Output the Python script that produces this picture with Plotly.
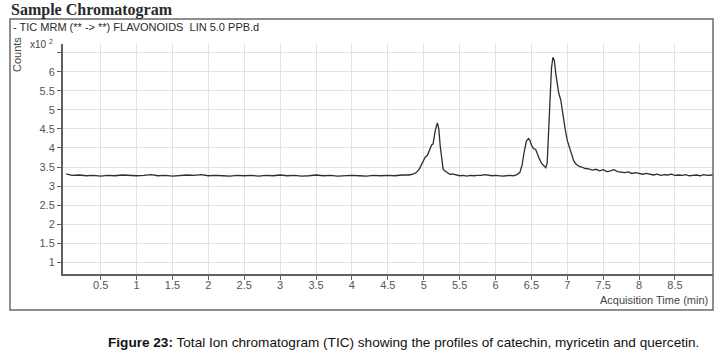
import plotly.graph_objects as go

# ---- data ----
time_min = [
    0.02, 0.1, 0.2, 0.3, 0.4, 0.5, 0.6, 0.7, 0.8, 0.9,
    1.0, 1.1, 1.2, 1.3, 1.4, 1.5, 1.6, 1.7, 1.8, 1.9,
    2.0, 2.1, 2.2, 2.3, 2.4, 2.5, 2.6, 2.7, 2.8, 2.9,
    3.0, 3.1, 3.2, 3.3, 3.4, 3.5, 3.6, 3.7, 3.8, 3.9,
    4.0, 4.1, 4.2, 4.3, 4.4, 4.5, 4.6, 4.7, 4.8,
    4.86, 4.90, 4.94, 4.98, 5.02, 5.05, 5.08, 5.11, 5.13, 5.16,
    5.19, 5.21, 5.23, 5.25, 5.27, 5.29, 5.31, 5.34, 5.37, 5.40,
    5.45, 5.50, 5.55, 5.60, 5.65, 5.70, 5.75, 5.80, 5.85, 5.90,
    5.95, 6.00, 6.05, 6.10, 6.15, 6.20, 6.25, 6.30, 6.34, 6.37,
    6.40, 6.43, 6.46, 6.48, 6.50, 6.53, 6.56, 6.58, 6.61, 6.64,
    6.67, 6.70, 6.72, 6.74, 6.76, 6.78, 6.80, 6.82, 6.84, 6.86,
    6.88, 6.91, 6.94, 6.97, 7.00, 7.03, 7.06, 7.09, 7.12, 7.16,
    7.20, 7.25, 7.30, 7.35, 7.40, 7.45, 7.50, 7.55, 7.60, 7.65,
    7.70, 7.75, 7.80, 7.85, 7.90, 7.95, 8.00, 8.05, 8.10, 8.15,
    8.20, 8.25, 8.30, 8.35, 8.40, 8.45, 8.50, 8.55, 8.60, 8.65,
    8.70, 8.75, 8.80, 8.85, 8.90, 8.95, 9.00, 9.03,
]
counts_x100 = [
    3.32, 3.28, 3.29, 3.27, 3.28, 3.26, 3.28, 3.27, 3.29, 3.28,
    3.27, 3.28, 3.30, 3.27, 3.28, 3.26, 3.27, 3.29, 3.28, 3.30,
    3.27, 3.28, 3.27, 3.26, 3.28, 3.27, 3.28, 3.26, 3.28, 3.27,
    3.29, 3.27, 3.28, 3.26, 3.27, 3.29, 3.27, 3.28, 3.26, 3.27,
    3.28, 3.27, 3.26, 3.28, 3.27, 3.28, 3.27, 3.29, 3.29,
    3.32, 3.36, 3.45, 3.62, 3.76, 3.80, 3.95, 4.08, 4.10, 4.45,
    4.66, 4.50, 4.05, 3.65, 3.45, 3.40, 3.37, 3.35, 3.30, 3.32,
    3.29, 3.27, 3.28, 3.26, 3.28, 3.27, 3.28, 3.28, 3.30, 3.28,
    3.27, 3.28, 3.27, 3.26, 3.27, 3.28, 3.27, 3.30, 3.36, 3.55,
    3.90, 4.18, 4.25, 4.20, 4.08, 3.98, 3.96, 3.85, 3.72, 3.60,
    3.55, 3.48, 3.60, 4.40, 5.40, 6.10, 6.38, 6.30, 5.95, 5.65,
    5.45, 5.25, 4.85, 4.50, 4.20, 4.03, 3.80, 3.66, 3.58, 3.52,
    3.50, 3.46, 3.45, 3.42, 3.44, 3.40, 3.43, 3.38, 3.40, 3.43,
    3.38, 3.37, 3.35, 3.37, 3.33, 3.35, 3.32, 3.31, 3.33, 3.30,
    3.29, 3.31, 3.28, 3.30, 3.29, 3.31, 3.28, 3.29, 3.28, 3.30,
    3.27, 3.28, 3.29, 3.27, 3.30, 3.28, 3.28, 3.29,
]
x_tick_vals = [0.5, 1, 1.5, 2, 2.5, 3, 3.5, 4, 4.5, 5, 5.5, 6, 6.5, 7, 7.5, 8, 8.5]
x_tick_text = ["0.5", "1", "1.5", "2", "2.5", "3", "3.5", "4", "4.5", "5",
               "5.5", "6", "6.5", "7", "7.5", "8", "8.5"]
y_tick_vals = [1, 1.5, 2, 2.5, 3, 3.5, 4, 4.5, 5, 5.5, 6, 6.5]
y_tick_text = ["1", "1.5", "2", "2.5", "3", "3.5", "4", "4.5", "5", "5.5", "6", ""]

# ---- layout geometry (pixels) ----
W, H = 721, 354
L, R, T, B = 63, 713, 44, 274   # plot area edges


def px(x):
    return (x - L) / (R - L)


def py(y):
    return (B - y) / (B - T)


fig = go.Figure()
fig.add_trace(go.Scatter(
    x=time_min, y=counts_x100, mode="lines",
    line=dict(color="#2e2e2e", width=1.3),
    hoverinfo="skip", showlegend=False,
))

font_sans = "Liberation Sans, Arial, sans-serif"

fig.update_layout(
    width=W, height=H,
    margin=dict(l=L, r=W - R, t=T, b=H - B, pad=0),
    paper_bgcolor="white", plot_bgcolor="white",
    font=dict(family=font_sans, size=11, color="#444"),
    xaxis=dict(
        range=[-0.025, 9.03], tickvals=x_tick_vals, ticktext=x_tick_text,
        showgrid=True, gridcolor="#e2e2e2", gridwidth=1,
        showline=True, linecolor="#606060", linewidth=2,
        ticks="outside", ticklen=4, tickcolor="#606060", tickwidth=1,
        tickfont=dict(size=11, color="#555"), zeroline=False,
        ticklabelstandoff=-4,
    ),
    yaxis=dict(
        range=[0.69, 6.73], tickvals=y_tick_vals, ticktext=y_tick_text,
        showgrid=True, gridcolor="#e2e2e2", gridwidth=1,
        showline=True, linecolor="#606060", linewidth=2,
        ticks="outside", ticklen=4, tickcolor="#606060", tickwidth=1,
        tickfont=dict(size=11, color="#555"), zeroline=False,
    ),
)

# outer frame
fig.add_shape(type="rect", xref="paper", yref="paper",
              x0=px(10), x1=px(713), y0=py(310), y1=py(19),
              line=dict(color="#6a6a6a", width=1.5), layer="above")

ann = [
    dict(text="<b>Sample Chromatogram</b>", x=px(9), y=py(10), xanchor="left", yanchor="middle",
         font=dict(family="Liberation Serif, DejaVu Serif, serif", size=16, color="#2a2a2a")),
    dict(text="- TIC MRM (** -&gt; **) FLAVONOIDS\u00a0\u00a0LIN 5.0 PPB.d", x=px(11), y=py(27),
         xanchor="left", yanchor="middle", font=dict(size=11, color="#2a2a2a")),
    dict(text="x10 <sup>2</sup>", x=px(28), y=py(44), xanchor="left", yanchor="middle",
         font=dict(size=10, color="#444")),
    dict(text="Counts", x=px(17), y=py(55), xanchor="center", yanchor="middle", textangle=-90,
         font=dict(size=11, color="#444")),
    dict(text="Acquisition Time (min)", x=px(710), y=py(300), xanchor="right", yanchor="middle",
         font=dict(size=11, color="#444")),
    dict(text="<b>Figure 23:</b> Total Ion chromatogram (TIC) showing the profiles of catechin, "
              "myricetin and quercetin.",
         x=px(403), y=py(342), xanchor="center", yanchor="middle",
         font=dict(size=13.6, color="#111")),
]
for a in ann:
    fig.add_annotation(xref="paper", yref="paper", showarrow=False, **a)

fig.write_html("out.html")
